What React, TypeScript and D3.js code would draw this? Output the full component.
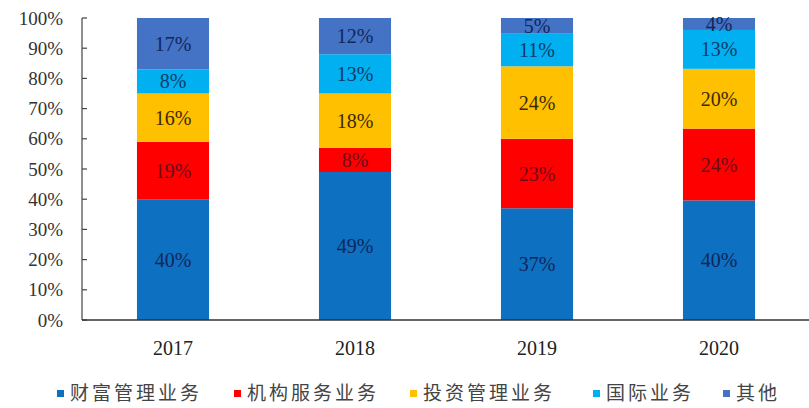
import * as d3 from "d3";

const years = ["2017", "2018", "2019", "2020"];
const seriesNames = ["财富管理业务", "机构服务业务", "投资管理业务", "国际业务", "其他"];
const wealth = [40, 49, 37, 40];
const institution = [19, 8, 23, 24];
const investment = [16, 18, 24, 20];
const international = [8, 13, 11, 13];
const other = [17, 12, 5, 4];
const yTicks = [0, 0.1, 0.2, 0.3, 0.4, 0.5, 0.6, 0.7, 0.8, 0.9, 1];

const colors = ["#0E70C0", "#FF0000", "#FFC000", "#00B0F0", "#4472C4"];
const textColors = ["#10275a", "#6e0a1e", "#3b2a05", "#0f3a6a", "#10275a"];

const serif = "'Times New Roman', 'Liberation Serif', serif";
const cjk = "'Noto Sans CJK SC', sans-serif";

const W = 809;
const H = 408;

export default function App() {
  const allSeries = [wealth, institution, investment, international, other];
  const rows = years.map((y, i) => {
    const r: any = { year: y };
    seriesNames.forEach((s, k) => (r[s] = allSeries[k][i]));
    return r;
  });
  const stacked = d3.stack<any>().keys(seriesNames).offset(d3.stackOffsetExpand)(rows);

  const x = d3.scaleBand().domain(years).range([82, 810]).paddingInner(0.604).paddingOuter(0.302);
  const y = d3.scaleLinear().domain([0, 1]).range([320, 18]);

  const legendX = [57, 234, 410, 593, 723];

  return (
    <svg width={W} height={H} style={{ position: "absolute", left: 0, top: 0, background: "#fff" }}>
      {stacked.map((layer, k) => (
        <g key={layer.key}>
          {layer.map((d, i) => (
            <g key={i}>
              <rect
                x={x(years[i])!}
                y={y(d[1])}
                width={x.bandwidth()}
                height={y(d[0]) - y(d[1])}
                fill={colors[k]}
              />
              <text
                x={x(years[i])! + x.bandwidth() / 2}
                y={(y(d[0]) + y(d[1])) / 2}
                dy="0.35em"
                textAnchor="middle"
                fontFamily={serif}
                fontSize={20}
                fill={textColors[k]}
              >
                {allSeries[k][i]}%
              </text>
            </g>
          ))}
        </g>
      ))}

      {/* axes */}
      <line x1={82} x2={82} y1={y(1)} y2={y(0)} stroke="#444" strokeWidth={1.2} />
      {yTicks.map((t) => (
        <g key={t}>
          <line x1={82} x2={87} y1={y(t)} y2={y(t)} stroke="#444" strokeWidth={1.2} />
          <text x={63} y={y(t)} dy="0.35em" textAnchor="end" fontFamily={serif} fontSize={19} fill="#333">
            {d3.format(".0%")(t)}
          </text>
        </g>
      ))}
      <line x1={82} x2={809} y1={y(0)} y2={y(0)} stroke="#333" strokeWidth={1.6} />
      {years.map((yr) => (
        <text
          key={yr}
          x={x(yr)! + x.bandwidth() / 2}
          y={355}
          textAnchor="middle"
          fontFamily={serif}
          fontSize={20}
          fill="#222"
        >
          {yr}
        </text>
      ))}

      {/* legend */}
      {seriesNames.map((s, k) => (
        <g key={s}>
          <rect x={legendX[k]} y={390} width={7} height={7} fill={colors[k]} />
          <text
            x={legendX[k] + 13}
            y={393}
            dy="0.35em"
            fontFamily={cjk}
            fontSize={19}
            letterSpacing={3}
            fill="#444"
          >
            {s}
          </text>
        </g>
      ))}
    </svg>
  );
}
